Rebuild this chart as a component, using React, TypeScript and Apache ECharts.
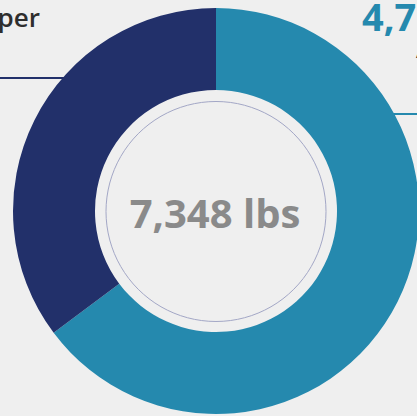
import React, { useEffect, useRef } from "react";
import * as echarts from "echarts";

const categories = ["Aluminum", "Paper"];
const seriesValues = [4758, 2590];
const sliceColors = ["#2589ae", "#22306a"];
const totalLabel = "7,348 lbs";

const fmt = (v: number) => v.toLocaleString("en-US");

export default function App() {
  const ref = useRef<HTMLDivElement>(null);
  useEffect(() => {
    document.body.style.margin = "0";
    const chart = echarts.init(ref.current!, null, { renderer: "svg" });
    const cx = 216;
    const cy = 211;
    chart.setOption({
      animation: false,
      backgroundColor: "#efefef",
      series: [
        {
          type: "pie",
          center: [cx, cy],
          radius: [121, 203],
          startAngle: 90,
          clockwise: true,
          silent: true,
          label: { show: false },
          labelLine: { show: false },
          data: categories.map((c, i) => ({
            name: c,
            value: seriesValues[i],
            itemStyle: { color: sliceColors[i] },
          })),
        },
      ],
      graphic: [
        {
          type: "circle",
          shape: { cx, cy: cy + 0.5, r: 110 },
          style: { fill: "none", stroke: "#a3a7c6", lineWidth: 1 },
          silent: true,
        },
        {
          type: "text",
          x: cx - 1,
          y: cy + 1,
          style: {
            text: totalLabel,
            font: "bold 40px 'Open Sans'",
            fill: "#8a8a8a",
            align: "center",
            verticalAlign: "middle",
          },
        },
        {
          type: "line",
          shape: { x1: 0, y1: 78, x2: 64, y2: 78 },
          style: { stroke: sliceColors[1], lineWidth: 2 },
        },
        {
          type: "line",
          shape: { x1: 392, y1: 114, x2: 420, y2: 114 },
          style: { stroke: sliceColors[0], lineWidth: 2 },
        },
        {
          type: "text",
          x: 40,
          y: 17,
          style: {
            text: categories[1],
            font: "600 26px 'Open Sans'",
            fill: "#2e2e2e",
            align: "right",
            verticalAlign: "middle",
          },
        },
        {
          type: "text",
          x: 362,
          y: 16,
          style: {
            text: fmt(seriesValues[0]),
            font: "bold 38px 'Open Sans'",
            fill: sliceColors[0],
            align: "left",
            verticalAlign: "middle",
          },
        },
        {
          type: "text",
          x: 416,
          y: 52,
          style: {
            text: categories[0],
            font: "600 15px 'Open Sans'",
            fill: "#333333",
            align: "left",
            verticalAlign: "middle",
          },
        },
      ],
    });
    return () => chart.dispose();
  }, []);
  return (
    <div
      ref={ref}
      style={{ position: "absolute", left: 0, top: 0, width: 417, height: 416 }}
    />
  );
}
